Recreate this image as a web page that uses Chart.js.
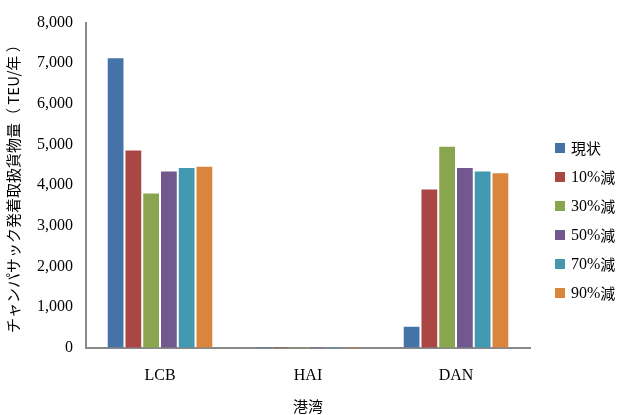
<!DOCTYPE html>
<html>
<head>
<meta charset="utf-8">
<script src="https://cdn.jsdelivr.net/npm/chart.js@4"></script>
<style>
  html, body { margin: 0; padding: 0; background: #fff; }
  #wrap { width: 617px; height: 415px; position: relative; }
</style>
</head>
<body>
<div id="wrap"><canvas id="c"></canvas></div>
<script>
// Ports and scenario series (TEU/year)
const ports = ['LCB', 'HAI', 'DAN'];
const seriesNames = ['現状', '10%減', '30%減', '50%減', '70%減', '90%減'];
const current = [7150, 40, 540];
const cut10 = [4880, 40, 3920];
const cut30 = [3820, 40, 4970];
const cut50 = [4360, 40, 4450];
const cut70 = [4450, 40, 4360];
const cut90 = [4480, 40, 4320];
const yTicks = [0, 1000, 2000, 3000, 4000, 5000, 6000, 7000, 8000];

const colors = ['#4572a7', '#aa4643', '#89a54e', '#71588f', '#4198af', '#db843d'];
const values = [current, cut10, cut30, cut50, cut70, cut90];

const serif = '"Liberation Serif", "Times New Roman", serif';
const gothic = '"Noto Sans CJK JP", sans-serif';

// Vertical legend drawn to the right of the plot area
const sideLegend = {
  id: 'sideLegend',
  afterDraw(chart) {
    const ctx = chart.ctx;
    const x = chart.chartArea.right + 25;
    const y0 = 148;
    const step = 29;
    ctx.save();
    ctx.textBaseline = 'middle';
    ctx.textAlign = 'left';
    chart.data.datasets.forEach((ds, i) => {
      const y = y0 + i * step;
      ctx.fillStyle = ds.backgroundColor;
      ctx.fillRect(x, y - 5, 10, 10);
      ctx.fillStyle = '#000';
      const label = ds.label;
      const m = label.match(/^([0-9%]+)(.*)$/);
      let tx = x + 16;
      if (m) {
        ctx.font = '16px ' + serif;
        ctx.fillText(m[1], tx, y + 1);
        tx += ctx.measureText(m[1]).width;
        ctx.font = '15px ' + gothic;
        ctx.fillText(m[2], tx, y);
      } else {
        ctx.font = '15px ' + gothic;
        ctx.fillText(label, tx, y);
      }
    });
    ctx.restore();
  }
};

new Chart(document.getElementById('c'), {
  type: 'bar',
  data: {
    labels: ports,
    datasets: seriesNames.map((name, i) => ({
      label: name,
      data: values[i],
      backgroundColor: colors[i],
      borderColor: 'rgba(255,255,255,0.3)',
      borderWidth: 1,
      categoryPercentage: 0.72,
      barPercentage: 1.0
    }))
  },
  plugins: [sideLegend],
  options: {
    responsive: true,
    maintainAspectRatio: false,
    animation: false,
    layout: { autoPadding: false, padding: { top: 17, right: 87, bottom: 0, left: 4 } },
    plugins: {
      legend: { display: false },
      tooltip: { enabled: false }
    },
    scales: {
      x: {
        grid: { display: false, drawTicks: false },
        border: { color: '#888', width: 2 },
        ticks: { color: '#000', font: { family: serif, size: 16 }, padding: 18 },
        title: { display: true, text: '港湾', color: '#000', font: { family: gothic, size: 15 }, padding: { top: -6, bottom: 0 } }
      },
      y: {
        min: 0,
        max: 8000,
        afterBuildTicks: (axis) => { axis.ticks = yTicks.map(v => ({ value: v })); },
        grid: { display: false, drawTicks: false },
        border: { color: '#888', width: 2 },
        ticks: {
          color: '#000',
          padding: 13,
          font: { family: serif, size: 16 },
          callback: (v) => v.toLocaleString('en-US')
        },
        title: { display: true, text: 'チャンパサック発着取扱貨物量（ TEU/年 ）', color: '#000', font: { family: gothic, size: 15 }, padding: { top: 0, bottom: 2 } }
      }
    }
  }
});
</script>
</body>
</html>
